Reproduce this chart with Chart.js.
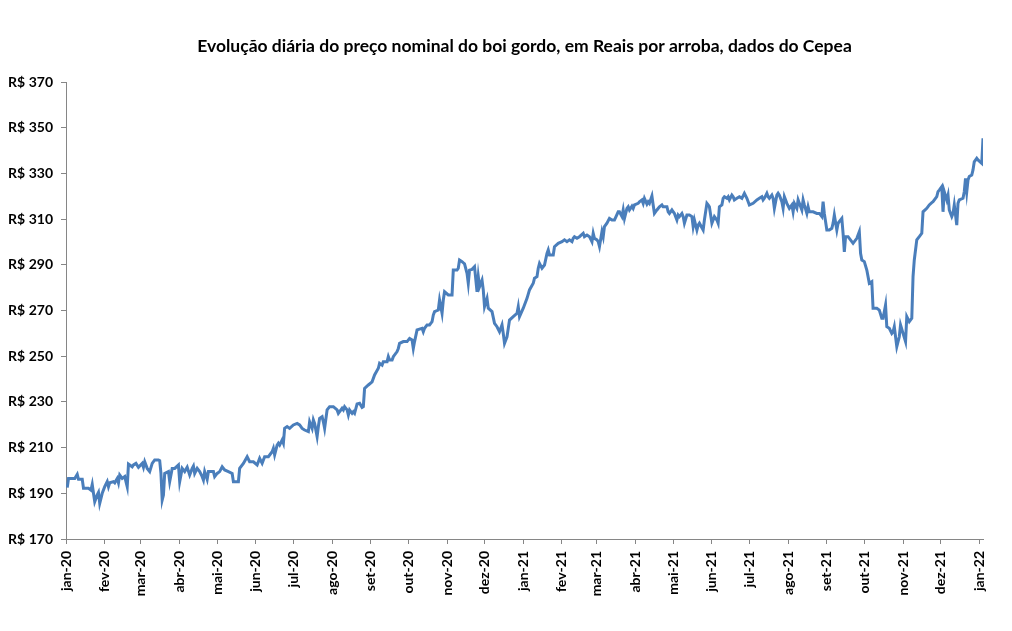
<!DOCTYPE html>
<html>
<head>
<meta charset="utf-8">
<script src="https://cdn.jsdelivr.net/npm/chart.js@4.4.1/dist/chart.umd.min.js"></script>
<style>
  body { margin: 0; background: #fff; }
  #wrap { width: 1012px; height: 631px; }
</style>
</head>
<body>
<div id="wrap"><canvas id="grafico"></canvas></div>
<script>
// boi gordo - Cepea, R$/arroba

const titulo = "Evolução diária do preço nominal do boi gordo, em Reais por arroba, dados do Cepea";

const rotulosMeses = ['jan-20','fev-20','mar-20','abr-20','mai-20','jun-20','jul-20','ago-20','set-20','out-20','nov-20','dez-20',
  'jan-21','fev-21','mar-21','abr-21','mai-21','jun-21','jul-21','ago-21','set-21','out-21','nov-21','dez-21','jan-22'];

const ticksY = [170, 190, 210, 230, 250, 270, 290, 310, 330, 350, 370];

const datas = [
  '2020-01-02','2020-01-03','2020-01-08','2020-01-10','2020-01-11','2020-01-14','2020-01-15','2020-01-19','2020-01-21','2020-01-22','2020-01-23','2020-01-24','2020-01-26','2020-01-27','2020-01-28','2020-01-30',
  '2020-02-01','2020-02-03','2020-02-04','2020-02-05','2020-02-08','2020-02-09','2020-02-11','2020-02-12','2020-02-13','2020-02-15','2020-02-17','2020-02-19','2020-02-20','2020-02-23','2020-02-24','2020-02-26','2020-02-28',
  '2020-03-02','2020-03-03','2020-03-04','2020-03-06','2020-03-07','2020-03-08','2020-03-10','2020-03-12','2020-03-15','2020-03-16','2020-03-17','2020-03-18','2020-03-19','2020-03-20','2020-03-23','2020-03-24','2020-03-26','2020-03-28','2020-03-30','2020-03-31',
  '2020-04-01','2020-04-03','2020-04-05','2020-04-07','2020-04-09','2020-04-11','2020-04-12','2020-04-13','2020-04-15','2020-04-17','2020-04-19','2020-04-20','2020-04-21','2020-04-23','2020-04-24','2020-04-27','2020-04-28','2020-04-29',
  '2020-05-01','2020-05-03','2020-05-05','2020-05-07','2020-05-10','2020-05-13','2020-05-14','2020-05-18','2020-05-19','2020-05-22','2020-05-25','2020-05-27','2020-05-30',
  '2020-06-02','2020-06-04','2020-06-06','2020-06-08','2020-06-11','2020-06-14','2020-06-15','2020-06-16','2020-06-18','2020-06-19','2020-06-20','2020-06-22','2020-06-23','2020-06-24','2020-06-26','2020-06-28',
  '2020-07-01','2020-07-04','2020-07-06','2020-07-08','2020-07-10','2020-07-13','2020-07-14','2020-07-16','2020-07-17','2020-07-18','2020-07-20','2020-07-21','2020-07-22','2020-07-24','2020-07-25','2020-07-26','2020-07-28','2020-07-30',
  '2020-08-02','2020-08-05','2020-08-06','2020-08-09','2020-08-10','2020-08-11','2020-08-13','2020-08-14','2020-08-15','2020-08-17','2020-08-18','2020-08-19','2020-08-21','2020-08-23','2020-08-25','2020-08-26','2020-08-27','2020-08-30',
  '2020-09-02','2020-09-04','2020-09-07','2020-09-08','2020-09-10','2020-09-11','2020-09-14','2020-09-15','2020-09-16','2020-09-18','2020-09-19','2020-09-22','2020-09-23','2020-09-24','2020-09-27','2020-09-30',
  '2020-10-02','2020-10-04','2020-10-05','2020-10-06','2020-10-08','2020-10-12','2020-10-13','2020-10-14','2020-10-16','2020-10-18','2020-10-20','2020-10-21','2020-10-22','2020-10-25','2020-10-26','2020-10-28','2020-10-29','2020-10-30',
  '2020-11-02','2020-11-05','2020-11-06','2020-11-09','2020-11-10','2020-11-11','2020-11-13','2020-11-14','2020-11-15','2020-11-17','2020-11-18','2020-11-19','2020-11-21','2020-11-23','2020-11-25','2020-11-26','2020-11-27','2020-11-29','2020-11-30',
  '2020-12-01','2020-12-03','2020-12-04','2020-12-07','2020-12-09','2020-12-11','2020-12-13','2020-12-15','2020-12-16','2020-12-17','2020-12-19','2020-12-21','2020-12-24','2020-12-27','2020-12-28','2020-12-29',
  '2021-01-01','2021-01-04','2021-01-06','2021-01-09','2021-01-10','2021-01-12','2021-01-13','2021-01-14','2021-01-16','2021-01-18','2021-01-20','2021-01-21','2021-01-22','2021-01-25','2021-01-26','2021-01-29',
  '2021-02-01','2021-02-03','2021-02-05','2021-02-07','2021-02-09','2021-02-10','2021-02-11','2021-02-13','2021-02-15','2021-02-18','2021-02-19','2021-02-21','2021-02-23','2021-02-25','2021-02-26','2021-02-27',
  '2021-03-01','2021-03-02','2021-03-03','2021-03-05','2021-03-06','2021-03-07','2021-03-09','2021-03-11','2021-03-13','2021-03-15','2021-03-18','2021-03-19','2021-03-21','2021-03-22','2021-03-23','2021-03-25','2021-03-26','2021-03-27','2021-03-29','2021-03-30','2021-03-31',
  '2021-04-03','2021-04-04','2021-04-06','2021-04-07','2021-04-08','2021-04-10','2021-04-11','2021-04-12','2021-04-14','2021-04-15','2021-04-16','2021-04-18','2021-04-20','2021-04-22','2021-04-23','2021-04-26','2021-04-27','2021-04-28','2021-04-30',
  '2021-05-01','2021-05-02','2021-05-04','2021-05-05','2021-05-06','2021-05-08','2021-05-09','2021-05-10','2021-05-12','2021-05-14','2021-05-16','2021-05-17','2021-05-18','2021-05-20','2021-05-21','2021-05-22','2021-05-25','2021-05-26','2021-05-28','2021-05-29','2021-05-30',
  '2021-06-01','2021-06-02','2021-06-03','2021-06-05','2021-06-06','2021-06-07','2021-06-09','2021-06-10','2021-06-11','2021-06-13','2021-06-14','2021-06-15','2021-06-17','2021-06-18','2021-06-19','2021-06-21','2021-06-23','2021-06-25','2021-06-27','2021-06-29',
  '2021-07-01','2021-07-04','2021-07-07','2021-07-09','2021-07-11','2021-07-12','2021-07-13','2021-07-15','2021-07-16','2021-07-17','2021-07-19','2021-07-20','2021-07-21','2021-07-23','2021-07-24','2021-07-25','2021-07-27','2021-07-28','2021-07-29','2021-07-31',
  '2021-08-02','2021-08-04','2021-08-05','2021-08-06','2021-08-08','2021-08-09','2021-08-10','2021-08-12','2021-08-13','2021-08-14','2021-08-16','2021-08-17','2021-08-18','2021-08-21','2021-08-24','2021-08-26','2021-08-28','2021-08-29','2021-08-30',
  '2021-09-01','2021-09-03','2021-09-05','2021-09-06','2021-09-07','2021-09-09','2021-09-10','2021-09-13','2021-09-14','2021-09-15','2021-09-16','2021-09-18','2021-09-22','2021-09-25','2021-09-27','2021-09-28','2021-09-29',
  '2021-10-01','2021-10-03','2021-10-05','2021-10-07','2021-10-08','2021-10-11','2021-10-13','2021-10-15','2021-10-16','2021-10-18','2021-10-19','2021-10-21','2021-10-23','2021-10-24','2021-10-25','2021-10-27','2021-10-29','2021-10-30',
  '2021-11-01','2021-11-03','2021-11-04','2021-11-06','2021-11-08','2021-11-09','2021-11-10','2021-11-12','2021-11-14','2021-11-16','2021-11-17','2021-11-20','2021-11-22','2021-11-24','2021-11-25','2021-11-28','2021-11-29','2021-11-30',
  '2021-12-02','2021-12-03','2021-12-04','2021-12-06','2021-12-07','2021-12-08','2021-12-10','2021-12-11','2021-12-12','2021-12-14','2021-12-15','2021-12-16','2021-12-19','2021-12-20','2021-12-21','2021-12-22','2021-12-23','2021-12-24','2021-12-26','2021-12-27','2021-12-28','2021-12-30','2021-12-31',
  '2022-01-03','2022-01-04'
];

const precos = [
  192.5,196.5,196.5,198.3,196.1,196.1,192.2,192.2,191.4,193.9,190,186.3,189.3,190.4,185.6,190,
  192.9,195.1,192.9,194.6,195.1,194.6,196.5,194.6,198,196.5,197.3,192.9,202.8,201.6,202.4,203.1,201.4,
  203.1,201.4,203.8,200.9,200.2,199.5,203.1,204.6,204.6,204.3,198.7,187.1,189.3,198.7,199.5,195.1,200.9,200.9,201.9,202.4,
  195.1,200.9,199.5,201.4,198,200.9,201.9,198.7,200.9,199.5,197.3,195.8,199.5,196.1,199.5,199.5,199.5,197.3,
  198.7,199.5,201.6,200.2,199.5,198.7,195.1,195.1,200.9,203.1,206,203.8,203.8,
  202.4,205.3,203.1,206,206,208.2,209.7,206.8,211.1,211.9,211.1,213.3,211.9,218.4,219.2,218.4,
  219.9,220.6,219.9,218.4,217.7,217,221.3,218.4,222.1,220.6,214.8,219.2,222.8,223.5,221.3,218.4,226.5,227.9,
  227.9,226.5,225,227.2,226.5,227.9,226.5,224.3,226.5,225,225.7,225,229.1,229.4,227.6,227.9,235.9,237.4,
  238.8,241.8,244.7,246.9,246.1,247.6,247.6,249.8,248.3,248.3,249.8,252,253.4,255.6,256.4,256.4,
  257.8,257.1,253.4,256.4,261.5,262.2,260.7,262.2,263.7,263.7,265.1,268,269.5,270.2,274.6,268.8,274.6,278.2,
  276.8,276.8,287.7,287.7,288.5,292.1,291.4,290.9,290.4,286.3,281.9,287.7,288,289.2,278.2,284.8,280.4,283.3,279,
  271.7,275.3,271,269.5,264.4,262.9,260.7,263.7,260,255.6,258.5,265.8,267.3,268.8,271.7,267.3,
  271,275.3,279,281.9,284.1,284.8,288.5,290.6,288.5,289.9,295,296.5,294.3,294.3,297.9,299.4,
  300.1,300.9,300.1,300.9,300.1,301.6,302.3,301.6,302.3,303.8,302.3,303,302.3,300.1,303.8,301.6,
  300.9,300.1,298,304.5,302.3,306.7,308.2,310.3,309.6,309.6,313.2,313.2,311.1,314,310.3,314.7,315.4,314,315.7,314.7,316.2,
  316.9,317.6,318.4,316.9,319.1,316.6,317.6,316.9,320.1,316.2,312.5,314,315.4,316.2,315.4,315.4,313.2,312.5,314,
  313.2,312.5,309.6,311.8,311.1,312.5,311.1,308.2,311.8,311.8,311.1,306.7,309.6,305.2,307.4,308.2,305.2,309.6,316.9,316.2,315.4,
  308.2,309.6,311.1,309.6,308.2,315.4,316.2,319.1,319.8,319.1,319.8,318.4,320.5,319.8,318.4,319.1,319.8,319.1,321.3,319.1,
  316.2,316.9,318.4,319.1,319.8,318.4,319.1,321.3,319.8,319.1,320.5,319.1,314.7,320.5,321.3,320.5,317.6,314.7,319.8,316.9,
  314.7,316.2,313.2,316.9,314.7,318.4,316.9,314,318.4,316.2,312.5,315.4,313.2,313.2,312.5,312.5,311.1,317.6,312.5,
  305.2,305.2,306,308.2,311.8,305.2,308.2,310.3,303.8,295.7,302.3,302.3,299.4,301.6,304.5,295,292.1,
  291.4,287.7,281.9,282.6,271,271,270.2,266.6,266.6,272.4,262.9,262.2,260,260.7,262.9,254.2,258.5,263.7,
  260,256.4,267.3,265.1,266.6,284.8,292.1,300.9,302.3,303.8,313.2,314.7,316.2,317.2,317.6,319.8,322,322.7,
  324.2,313.2,322,318.4,320.5,314,311.1,312.5,316.2,307.4,316.9,318.4,319.1,322,327.8,322,327.1,328.6,329.3,331.5,335.1,336.6,335.9,
  334.4,345.4
];

// dias desde 01/01/2020
const inicio = Date.UTC(2020, 0, 1);
const DIA = 86400000;
const diaDe = s => (Date.parse(s) - inicio) / DIA;

const posicoesMeses = rotulosMeses.map((r, i) => (Date.UTC(2020, i, 1) - inicio) / DIA);
const pontos = datas.map((d, i) => ({ x: diaDe(d), y: precos[i] }));

const fonteEixo = { family: 'Lato', size: 14, weight: 'bold' };
const cinza = '#868686';

new Chart(document.getElementById('grafico'), {
  type: 'line',
  data: {
    datasets: [{
      data: pontos,
      borderColor: '#4a7ebb',
      borderWidth: 3,
      pointRadius: 0,
      tension: 0,
      fill: false
    }]
  },
  options: {
    responsive: true,
    maintainAspectRatio: false,
    animation: false,
    layout: { padding: { left: 0, right: 29, top: 0, bottom: 0 } },
    plugins: {
      legend: { display: false },
      tooltip: { enabled: false },
      title: {
        display: true,
        text: titulo,
        fullSize: false,
        color: '#000',
        font: { family: 'Lato', size: 17.5, weight: 'bold' },
        padding: { top: 36, bottom: 25 }
      }
    },
    scales: {
      x: {
        type: 'linear',
        min: 0,
        max: 734,
        afterBuildTicks: s => { s.ticks = posicoesMeses.map(v => ({ value: v })); },
        afterFit: s => { s.height = 92; },
        ticks: {
          autoSkip: false,
          minRotation: 90,
          maxRotation: 90,
          padding: 7,
          color: '#000',
          font: fonteEixo,
          callback: (v, i) => rotulosMeses[i]
        },
        grid: { drawOnChartArea: false, tickLength: 5, color: cinza },
        border: { color: cinza }
      },
      y: {
        min: ticksY[0],
        max: ticksY[ticksY.length - 1],
        afterBuildTicks: s => { s.ticks = ticksY.map(v => ({ value: v })); },
        afterFit: s => { s.width = 66; },
        ticks: {
          padding: 8,
          color: '#000',
          font: fonteEixo,
          callback: v => 'R$ ' + v
        },
        grid: { drawOnChartArea: false, tickLength: 5, color: cinza },
        border: { color: cinza }
      }
    }
  }
});
</script>
</body>
</html>
